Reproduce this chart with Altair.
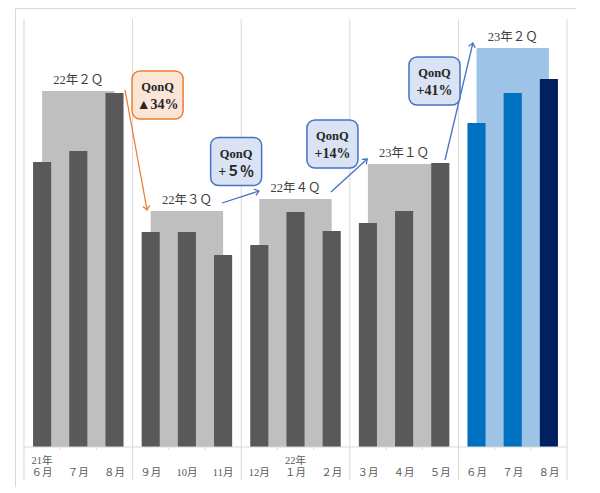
import math
import altair as alt
import pandas as pd

# ---- data ----
months = ["６月", "７月", "８月", "９月", "10月", "11月", "12月", "１月", "２月",
          "３月", "４月", "５月", "６月", "７月", "８月"]
years = ["21年", "", "", "", "", "", "", "22年", "", "", "", "", "", "", ""]
month_values = [285, 296, 354, 215, 215, 192, 202, 235, 216, 224, 236, 284, 324, 354, 368]
quarters = ["22年２Ｑ", "22年３Ｑ", "22年４Ｑ", "23年１Ｑ", "23年２Ｑ"]
quarter_values = [356, 236, 248, 283, 399]
qonq_title = ["QonQ", "QonQ", "QonQ", "QonQ"]
qonq_change = ["▲34%", "+５％", "+14%", "+41%"]

# ---- layout ----
W, H = 561, 479
XPAD = 0.2486
XDOM = [-XPAD, 15 + XPAD]
YDOM = [-40, 439]
PX_PER_X = W / (XDOM[1] - XDOM[0])
xs = alt.Scale(domain=XDOM, nice=False, zero=False)
ys = alt.Scale(domain=YDOM, nice=False, zero=False)

SERIF = "'Liberation Serif', 'Noto Sans CJK JP', serif"
DARK = "#595959"
GRID = "#d9d9d9"

mdf = pd.DataFrame({"i": list(range(15)), "month": months, "year": years, "value": month_values})
mdf["x1"] = mdf["i"] + 0.25
mdf["x2"] = mdf["i"] + 0.75
mdf["xc"] = mdf["i"] + 0.5
mdf["color"] = [DARK] * 12 + ["#0070c0", "#0070c0", "#002060"]
mdf["ym"] = -26
mdf["yy"] = -14

qdf = pd.DataFrame({"q": list(range(5)), "label": quarters, "value": quarter_values})
qdf["x1"] = qdf["q"] * 3 + 0.5
qdf["x2"] = qdf["q"] * 3 + 2.5
qdf["xc"] = qdf["q"] * 3 + 1.5
qdf["color"] = ["#bfbfbf"] * 4 + ["#9dc3e6"]

grid_df = pd.DataFrame({"x": [0, 3, 6, 9, 12, 15], "y": -33, "y2": 428})
tick_df = pd.DataFrame({"x": [k for k in range(1, 15) if k % 3], "y": -3, "y2": 0})
base_df = pd.DataFrame({"x": [0], "x2": [15], "y": [0]})

# annotation layout (boxes and arrows)
ORANGE, ORANGE_F = "#ed7d31", "#fbe5d6"
BLUE, BLUE_F = "#4472c4", "#dae3f3"
box_cx = [3.69, 5.86, 8.52, 11.34]
box_cy = [352, 285.5, 303, 366]
arrow_x1 = [2.79, 5.47, 8.48, 11.63]
arrow_y1 = [357, 244, 255, 287]
arrow_x2 = [3.40, 6.49, 9.48, 12.40]
arrow_y2 = [237, 256, 288, 404]

adf = pd.DataFrame({"title": qonq_title, "change": qonq_change, "cx": box_cx, "cy": box_cy,
                    "ax1": arrow_x1, "ay1": arrow_y1, "ax2": arrow_x2, "ay2": arrow_y2})
adf["bx1"] = adf["cx"] - 0.705
adf["bx2"] = adf["cx"] + 0.705
adf["by1"] = adf["cy"] - 24
adf["by2"] = adf["cy"] + 24
adf["stroke"] = [ORANGE, BLUE, BLUE, BLUE]
adf["fill"] = [ORANGE_F, BLUE_F, BLUE_F, BLUE_F]
adf["angle"] = [
    math.degrees(math.atan2(-(b - a), (d - c) * PX_PER_X)) % 360
    for a, b, c, d in zip(adf["ay1"], adf["ay2"], adf["ax1"], adf["ax2"])
]

X = lambda f: alt.X(f, scale=xs, axis=None)
Y = lambda f: alt.Y(f, scale=ys, axis=None)

grid = alt.Chart(grid_df).mark_rule(color=GRID, strokeWidth=1).encode(
    x=X("x:Q"), y=Y("y:Q"), y2="y2:Q")
ticks = alt.Chart(tick_df).mark_rule(color=GRID, strokeWidth=1).encode(
    x=X("x:Q"), y=Y("y:Q"), y2="y2:Q")

qbars = alt.Chart(qdf).mark_rect().encode(
    x=X("x1:Q"), x2="x2:Q", y=Y("value:Q"), y2=alt.datum(0),
    color=alt.Color("color:N", scale=None))
qtext = alt.Chart(qdf).mark_text(baseline="bottom", dy=-4, fontSize=12.5, font=SERIF,
                                  color="#404040").encode(
    x=X("xc:Q"), y=Y("value:Q"), text="label:N")

mbars = alt.Chart(mdf).mark_rect().encode(
    x=X("x1:Q"), x2="x2:Q", y=Y("value:Q"), y2=alt.datum(0),
    color=alt.Color("color:N", scale=None))

baseline = alt.Chart(base_df).mark_rule(color=GRID, strokeWidth=1).encode(
    x=X("x:Q"), x2="x2:Q", y=Y("y:Q"))

mlabels = alt.Chart(mdf).mark_text(baseline="middle", fontSize=10.5, font=SERIF, color=DARK).encode(
    x=X("xc:Q"), y=Y("ym:Q"), text="month:N")
ylabels = alt.Chart(mdf).mark_text(baseline="middle", fontSize=10.5, font=SERIF, color=DARK).encode(
    x=X("xc:Q"), y=Y("yy:Q"), text="year:N")

shafts = alt.Chart(adf).mark_rule(strokeWidth=1.3).encode(
    x=X("ax1:Q"), y=Y("ay1:Q"), x2="ax2:Q", y2="ay2:Q",
    color=alt.Color("stroke:N", scale=None))
heads = alt.Chart(adf).mark_point(shape="M-1,-0.8L0,0L-1,0.8", filled=False, size=70,
                                  strokeWidth=1.3, opacity=1).encode(
    x=X("ax2:Q"), y=Y("ay2:Q"), angle=alt.Angle("angle:Q", scale=None),
    stroke=alt.Stroke("stroke:N", scale=None))

boxes = alt.Chart(adf).mark_rect(cornerRadius=8, strokeWidth=1.5).encode(
    x=X("bx1:Q"), x2="bx2:Q", y=Y("by1:Q"), y2="by2:Q",
    fill=alt.Fill("fill:N", scale=None), stroke=alt.Stroke("stroke:N", scale=None))
btext1 = alt.Chart(adf).mark_text(fontSize=12.5, fontWeight="bold", font=SERIF,
                                   color="#262626", baseline="middle", dy=-8).encode(
    x=X("cx:Q"), y=Y("cy:Q"), text="title:N")
btext2 = alt.Chart(adf).mark_text(fontSize=14, fontWeight="bold", font=SERIF,
                                   color="#262626", baseline="middle", dy=10).encode(
    x=X("cx:Q"), y=Y("cy:Q"), text="change:N")

chart = alt.layer(
    grid, ticks, qbars, mbars, baseline, qtext, mlabels, ylabels, shafts, heads, boxes,
    btext1, btext2
).properties(
    width=W, height=H, autosize="none",
    padding={"left": 7, "top": 0, "right": 0, "bottom": 0},
).configure_view(stroke=GRID, strokeWidth=1)

chart.save("out.html", embed_options={"renderer": "svg", "actions": False})
